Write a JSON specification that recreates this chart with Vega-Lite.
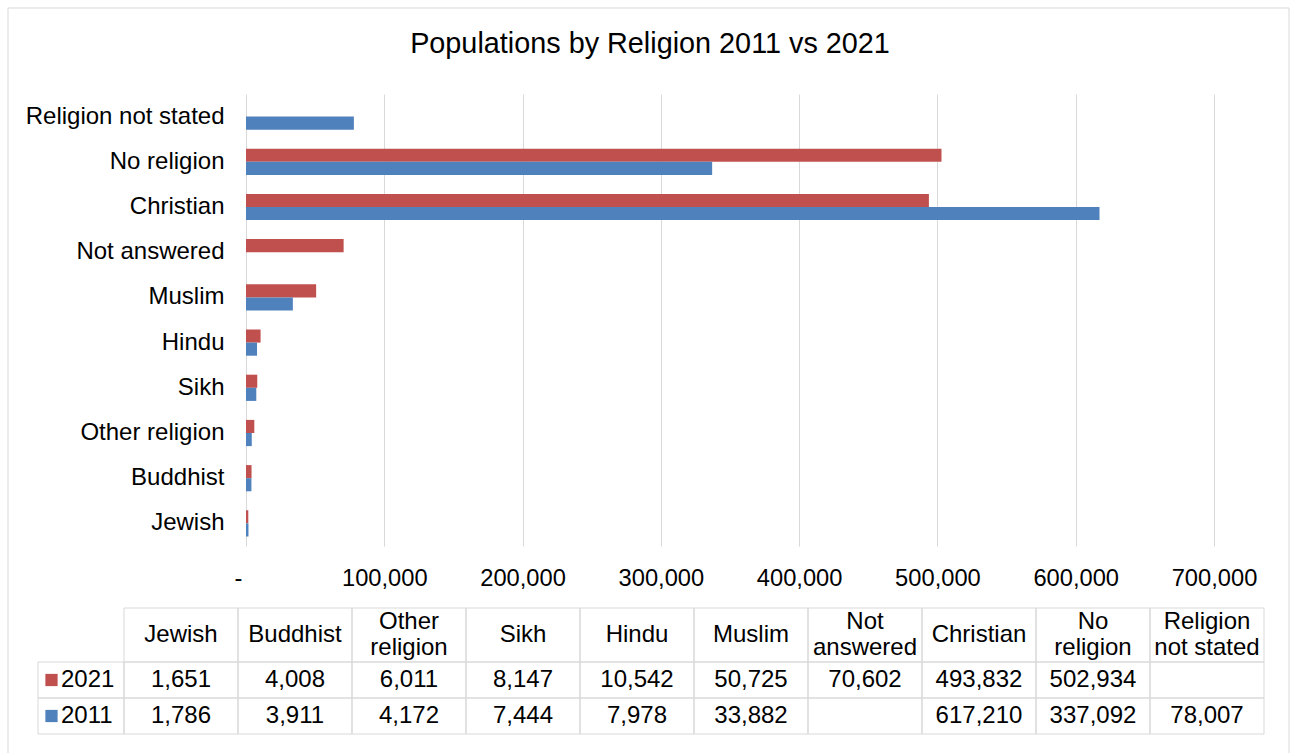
{
  "$schema": "https://vega.github.io/schema/vega-lite/v6.json",
  "usermeta": {"embedOptions": {"actions": false}},
  "background": "white",
  "padding": {"left": 7, "top": 7, "right": 6, "bottom": 0},
  "config": {
    "font": "Liberation Sans",
    "view": {"stroke": null}
  },
  "datasets": {
    "cats": [
      {"religion": "Jewish", "label": "Jewish"},
      {"religion": "Buddhist", "label": "Buddhist"},
      {"religion": "Other religion", "label": "Other\nreligion"},
      {"religion": "Sikh", "label": "Sikh"},
      {"religion": "Hindu", "label": "Hindu"},
      {"religion": "Muslim", "label": "Muslim"},
      {"religion": "Not answered", "label": "Not\nanswered"},
      {"religion": "Christian", "label": "Christian"},
      {"religion": "No religion", "label": "No\nreligion"},
      {"religion": "Religion not stated", "label": "Religion\nnot stated"}
    ],
    "pop": [
      {"religion": "Jewish", "year": "2021", "value": 1651},
      {"religion": "Jewish", "year": "2011", "value": 1786},
      {"religion": "Buddhist", "year": "2021", "value": 4008},
      {"religion": "Buddhist", "year": "2011", "value": 3911},
      {"religion": "Other religion", "year": "2021", "value": 6011},
      {"religion": "Other religion", "year": "2011", "value": 4172},
      {"religion": "Sikh", "year": "2021", "value": 8147},
      {"religion": "Sikh", "year": "2011", "value": 7444},
      {"religion": "Hindu", "year": "2021", "value": 10542},
      {"religion": "Hindu", "year": "2011", "value": 7978},
      {"religion": "Muslim", "year": "2021", "value": 50725},
      {"religion": "Muslim", "year": "2011", "value": 33882},
      {"religion": "Not answered", "year": "2021", "value": 70602},
      {"religion": "Not answered", "year": "2011", "value": null},
      {"religion": "Christian", "year": "2021", "value": 493832},
      {"religion": "Christian", "year": "2011", "value": 617210},
      {"religion": "No religion", "year": "2021", "value": 502934},
      {"religion": "No religion", "year": "2011", "value": 337092},
      {"religion": "Religion not stated", "year": "2021", "value": null},
      {"religion": "Religion not stated", "year": "2011", "value": 78007}
    ]
  },
  "bounds": "flush",
  "spacing": 62,
  "resolve": {"scale": {"x": "independent", "y": "independent"}},
  "vconcat": [
    {
      "width": 968,
      "height": 452,
      "title": {
        "text": "Populations by Religion 2011 vs 2021",
        "fontSize": 28.8,
        "fontWeight": "normal",
        "color": "#000000",
        "anchor": "middle",
        "frame": "bounds",
        "dx": 9,
        "baseline": "alphabetic",
        "offset": 12
      },
      "data": {"name": "pop"},
      "mark": {"type": "bar"},
      "encoding": {
        "y": {
          "field": "religion",
          "type": "nominal",
          "sort": ["Religion not stated", "No religion", "Christian", "Not answered", "Muslim", "Hindu", "Sikh", "Other religion", "Buddhist", "Jewish"],
          "scale": {"paddingInner": 0.42, "paddingOuter": 0.21},
          "axis": {
            "title": null,
            "ticks": false,
            "domain": false,
            "labelFontSize": 24,
            "labelColor": "#000000",
            "labelPadding": 22,
            "labelLimit": 400
          }
        },
        "yOffset": {"field": "year", "type": "nominal", "sort": ["2021", "2011"]},
        "x": {
          "field": "value",
          "type": "quantitative",
          "scale": {"domain": [0, 700000], "nice": false},
          "axis": {
            "title": null,
            "values": [0, 100000, 200000, 300000, 400000, 500000, 600000, 700000],
            "labelExpr": "datum.value == 0 ? '-' : format(datum.value, ',')",
            "labelOffset": {"condition": {"test": "datum.value == 0", "value": -8}, "value": 0},
            "grid": true,
            "gridColor": "#D9D9D9",
            "domain": false,
            "ticks": false,
            "labelFlush": false,
            "labelPadding": 20,
            "labelFontSize": 23.7,
            "labelColor": "#000000"
          }
        },
        "color": {
          "field": "year",
          "type": "nominal",
          "scale": {"domain": ["2021", "2011"], "range": ["#C0504D", "#4F81BD"]},
          "legend": null
        }
      }
    },
    {
      "width": 1018,
      "height": 126,
      "layer": [
        {
          "data": {"name": "cats"},
          "transform": [
            {"calculate": "indexof(['Jewish','Buddhist','Other religion','Sikh','Hindu','Muslim','Not answered','Christian','No religion','Religion not stated'], datum.religion)", "as": "c"},
            {"calculate": "datum.c + 1", "as": "c1"}
          ],
          "mark": {"type": "rect", "filled": false, "color": "#D9D9D9", "strokeWidth": 1},
          "encoding": {
            "x": {"field": "c", "type": "quantitative", "scale": {"domain": [1.0702, 10], "nice": false, "zero": false}, "axis": null},
            "x2": {"field": "c1"},
            "y": {"datum": 0, "type": "quantitative", "scale": {"domain": [0, 3.5], "nice": false, "zero": false, "reverse": true}, "axis": null},
            "y2": {"datum": 1.5}
          }
        },
        {
          "data": {"name": "pop"},
          "transform": [
            {"calculate": "indexof(['Jewish','Buddhist','Other religion','Sikh','Hindu','Muslim','Not answered','Christian','No religion','Religion not stated'], datum.religion)", "as": "c"},
            {"calculate": "datum.c + 1", "as": "c1"},
            {"calculate": "datum.year == '2021' ? 1.5 : 2.5", "as": "r"},
            {"calculate": "datum.r + 1", "as": "r1"}
          ],
          "mark": {"type": "rect", "filled": false, "color": "#D9D9D9", "strokeWidth": 1},
          "encoding": {
            "x": {"field": "c", "type": "quantitative"},
            "x2": {"field": "c1"},
            "y": {"field": "r", "type": "quantitative"},
            "y2": {"field": "r1"}
          }
        },
        {
          "data": {"name": "pop"},
          "transform": [
            {"aggregate": [{"op": "count", "as": "n"}], "groupby": ["year"]},
            {"calculate": "datum.year == '2021' ? 1.5 : 2.5", "as": "r"},
            {"calculate": "datum.r + 1", "as": "r1"}
          ],
          "mark": {"type": "rect", "filled": false, "color": "#D9D9D9", "strokeWidth": 1},
          "encoding": {
            "x": {"datum": -0.7544, "type": "quantitative"},
            "x2": {"datum": 0},
            "y": {"field": "r", "type": "quantitative"},
            "y2": {"field": "r1"}
          }
        },
        {
          "data": {"name": "cats"},
          "transform": [
            {"filter": "indexof(datum.label, '\\n') < 0"},
            {"calculate": "indexof(['Jewish','Buddhist','Other religion','Sikh','Hindu','Muslim','Not answered','Christian','No religion','Religion not stated'], datum.religion) + 0.5", "as": "cm"}
          ],
          "mark": {"type": "text", "fontSize": 24, "color": "#000000", "align": "center", "baseline": "middle"},
          "encoding": {
            "x": {"field": "cm", "type": "quantitative"},
            "y": {"datum": 0.75, "type": "quantitative"},
            "text": {"field": "label"}
          }
        },
        {
          "data": {"name": "cats"},
          "transform": [
            {"filter": "indexof(datum.label, '\\n') >= 0"},
            {"calculate": "indexof(['Jewish','Buddhist','Other religion','Sikh','Hindu','Muslim','Not answered','Christian','No religion','Religion not stated'], datum.religion) + 0.5", "as": "cm"}
          ],
          "mark": {"type": "text", "lineBreak": "\n", "lineHeight": 25.5, "fontSize": 24, "color": "#000000", "align": "center", "baseline": "middle", "dy": -12.75},
          "encoding": {
            "x": {"field": "cm", "type": "quantitative"},
            "y": {"datum": 0.75, "type": "quantitative"},
            "text": {"field": "label"}
          }
        },
        {
          "data": {"name": "pop"},
          "transform": [
            {"filter": "isValid(datum.value)"},
            {"calculate": "indexof(['Jewish','Buddhist','Other religion','Sikh','Hindu','Muslim','Not answered','Christian','No religion','Religion not stated'], datum.religion) + 0.5", "as": "cm"},
            {"calculate": "datum.year == '2021' ? 2 : 3", "as": "rm"}
          ],
          "mark": {"type": "text", "fontSize": 24, "color": "#000000", "align": "center", "baseline": "middle"},
          "encoding": {
            "x": {"field": "cm", "type": "quantitative"},
            "y": {"field": "rm", "type": "quantitative"},
            "text": {"field": "value", "type": "quantitative", "format": ","}
          }
        },
        {
          "data": {"name": "pop"},
          "transform": [
            {"aggregate": [{"op": "count", "as": "n"}], "groupby": ["year"]},
            {"calculate": "datum.year == '2021' ? 2 : 3", "as": "rm"}
          ],
          "mark": {"type": "point", "shape": "square", "filled": true, "size": 150, "opacity": 1},
          "encoding": {
            "x": {"datum": -0.636, "type": "quantitative"},
            "y": {"field": "rm", "type": "quantitative"},
            "color": {"field": "year", "type": "nominal", "scale": {"domain": ["2021", "2011"], "range": ["#C0504D", "#4F81BD"]}, "legend": null}
          }
        },
        {
          "data": {"name": "pop"},
          "transform": [
            {"aggregate": [{"op": "count", "as": "n"}], "groupby": ["year"]},
            {"calculate": "datum.year == '2021' ? 2 : 3", "as": "rm"}
          ],
          "mark": {"type": "text", "fontSize": 24, "color": "#000000", "align": "left", "baseline": "middle", "dx": 23},
          "encoding": {
            "x": {"datum": -0.7544, "type": "quantitative"},
            "y": {"field": "rm", "type": "quantitative"},
            "text": {"field": "year"}
          }
        },
        {
          "data": {"values": [{}]},
          "mark": {"type": "rule", "color": "#D9D9D9", "strokeWidth": 1},
          "encoding": {
            "x": {"datum": -1.0175, "type": "quantitative"},
            "x2": {"datum": 10.2193},
            "y": {"datum": -16.667, "type": "quantitative"}
          }
        },
        {
          "data": {"values": [{}]},
          "mark": {"type": "rule", "color": "#D9D9D9", "strokeWidth": 1},
          "encoding": {
            "x": {"datum": -1.0175, "type": "quantitative"},
            "y": {"datum": -16.667, "type": "quantitative"},
            "y2": {"datum": 4.0278}
          }
        },
        {
          "data": {"values": [{}]},
          "mark": {"type": "rule", "color": "#D9D9D9", "strokeWidth": 1},
          "encoding": {
            "x": {"datum": 10.2193, "type": "quantitative"},
            "y": {"datum": -16.667, "type": "quantitative"},
            "y2": {"datum": 4.0278}
          }
        }
      ]
    }
  ]
}
